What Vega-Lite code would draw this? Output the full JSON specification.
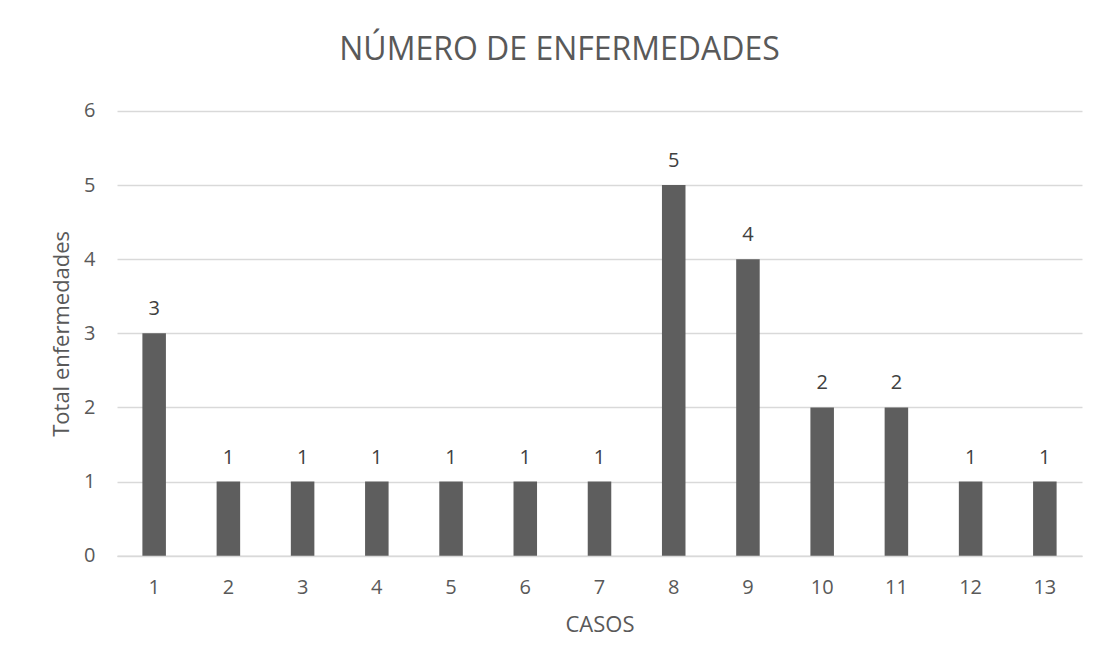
{
  "$schema": "https://vega.github.io/schema/vega-lite/v6.json",
  "width": 965,
  "height": 444.7,
  "autosize": "none",
  "padding": {"left": 117, "top": 111, "right": 20, "bottom": 111},
  "background": "white",
  "config": {"view": {"stroke": null}, "font": "Open Sans"},
  "title": {"text": "NÚMERO DE ENFERMEDADES", "fontSize": 32, "fontWeight": "normal", "color": "#595959", "anchor": "middle", "dx": -40, "offset": 34},
  "data": {"values": [
    {"caso": "1", "total": 3},
    {"caso": "2", "total": 1},
    {"caso": "3", "total": 1},
    {"caso": "4", "total": 1},
    {"caso": "5", "total": 1},
    {"caso": "6", "total": 1},
    {"caso": "7", "total": 1},
    {"caso": "8", "total": 5},
    {"caso": "9", "total": 4},
    {"caso": "10", "total": 2},
    {"caso": "11", "total": 2},
    {"caso": "12", "total": 1},
    {"caso": "13", "total": 1}
  ]},
  "encoding": {
    "x": {
      "field": "caso", "type": "ordinal", "sort": null,
      "scale": {"paddingInner": 0.683, "paddingOuter": 0.342},
      "axis": {
        "title": "CASOS", "labelAngle": 0, "ticks": false, "tickSize": 0,
        "domain": true, "domainColor": "#d9d9d9", "domainWidth": 1.5,
        "labelFontSize": 20, "labelColor": "#595959", "labelPadding": 22,
        "titleFontSize": 22, "titleFontWeight": "normal", "titleColor": "#595959", "titlePadding": 17
      }
    },
    "y": {
      "field": "total", "type": "quantitative",
      "scale": {"domain": [0, 6]},
      "axis": {
        "title": "Total enfermedades", "values": [0, 1, 2, 3, 4, 5, 6],
        "domain": false, "ticks": false, "tickSize": 0,
        "grid": true, "gridColor": "#d9d9d9", "gridWidth": 1.5,
        "labelFontSize": 20, "labelColor": "#595959", "labelPadding": 22,
        "titleFontSize": 22, "titleFontWeight": "normal", "titleColor": "#595959", "titlePadding": 10
      }
    }
  },
  "layer": [
    {"mark": {"type": "bar", "color": "#5e5e5e"}},
    {"mark": {"type": "text", "dy": -24, "baseline": "middle", "fontSize": 20, "color": "#404040"},
     "encoding": {"text": {"field": "total", "type": "quantitative"}}}
  ]
}
